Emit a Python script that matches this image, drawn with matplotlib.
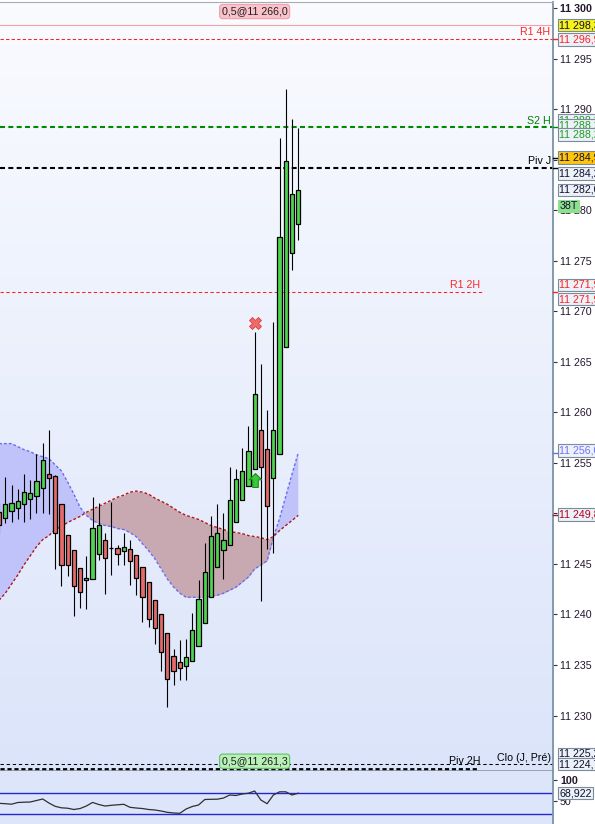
import numpy as np
import matplotlib
matplotlib.use("Agg")
import matplotlib.pyplot as plt

plt.rcParams['font.family'] = ['Liberation Sans', 'DejaVu Sans']
plt.rcParams['lines.scale_dashes'] = False

# candles, oldest -> newest
opens = [11250.1, 11249.5, 11250.2, 11250.5, 11250.9, 11251.4, 11251.7, 11252.5, 11253.9, 11253.7,
         11250.9, 11247.9, 11246.4, 11244.6, 11243.4, 11243.5, 11246.0, 11247.4, 11246.6, 11246.6,
         11246.3, 11246.5, 11245.9, 11244.7, 11243.2, 11241.4, 11240.0, 11238.2, 11235.9, 11235.3,
         11234.9, 11235.4, 11236.9, 11239.2, 11241.7, 11244.7, 11246.4, 11246.9, 11249.1, 11251.3,
         11252.7, 11254.4, 11258.2, 11256.4, 11253.5, 11255.9, 11266.5, 11275.8, 11278.6]
highs = [11251.0, 11253.6, 11252.8, 11252.4, 11253.9, 11253.3, 11255.9, 11257.0, 11258.2, 11253.8,
         11250.9, 11247.9, 11246.4, 11244.6, 11245.8, 11251.6, 11251.0, 11248.1, 11251.1, 11246.9,
         11248.1, 11247.4, 11245.9, 11244.7, 11243.2, 11241.4, 11240.0, 11238.2, 11236.6, 11237.5,
         11237.6, 11240.1, 11243.4, 11247.1, 11249.7, 11250.9, 11250.0, 11254.6, 11254.4, 11256.5,
         11258.6, 11267.9, 11264.8, 11260.2, 11268.9, 11287.1, 11292.0, 11289.0, 11288.1]
lows = [11248.0, 11249.0, 11249.1, 11249.4, 11249.1, 11249.4, 11250.0, 11250.0, 11249.9, 11244.5,
        11242.8, 11243.8, 11239.8, 11240.6, 11240.5, 11243.5, 11245.4, 11242.0, 11243.9, 11244.9,
        11244.9, 11242.9, 11241.9, 11239.3, 11238.8, 11237.1, 11234.4, 11230.8, 11233.0, 11233.5,
        11233.5, 11235.4, 11236.9, 11239.2, 11241.7, 11244.7, 11243.5, 11246.9, 11249.1, 11251.3,
        11252.7, 11254.4, 11241.3, 11246.5, 11246.1, 11255.9, 11266.5, 11274.1, 11277.0]
closes = [11248.8, 11250.9, 11251.0, 11251.2, 11252.1, 11252.0, 11253.2, 11255.3, 11253.5, 11248.1,
          11244.9, 11244.9, 11242.8, 11242.2, 11243.6, 11248.6, 11248.8, 11245.6, 11246.6, 11246.0,
          11246.7, 11245.3, 11243.6, 11241.7, 11239.5, 11238.7, 11236.3, 11233.6, 11234.4, 11234.7,
          11235.8, 11238.5, 11241.5, 11244.2, 11247.8, 11248.1, 11247.4, 11251.3, 11253.4, 11254.2,
          11256.2, 11261.8, 11254.6, 11250.7, 11258.2, 11277.3, 11284.9, 11281.6, 11282.0]

# cloud lines
span_a = [11256.9, 11256.9, 11256.9, 11256.6, 11256.3, 11256.1, 11255.8, 11255.6, 11255.4, 11254.8,
          11254.2, 11253.1, 11251.9, 11250.6, 11249.8, 11249.3, 11249.0, 11248.8, 11248.7, 11248.5,
          11248.4, 11248.1, 11247.7, 11247.0, 11246.3, 11245.5, 11244.5, 11243.5, 11242.7, 11242.1,
          11241.7, 11241.7, 11241.7, 11241.7, 11241.8, 11241.9, 11242.1, 11242.4, 11242.7, 11243.2,
          11243.7, 11244.5, 11244.9, 11245.3, 11247.6, 11249.5, 11251.7, 11253.9, 11256.0]
span_b = [11241.4, 11242.1, 11243.0, 11243.9, 11244.9, 11245.8, 11246.7, 11247.4, 11247.8, 11248.4,
          11248.7, 11249.1, 11249.4, 11249.7, 11250.1, 11250.4, 11250.7, 11251.0, 11251.3, 11251.6,
          11251.8, 11252.1, 11252.2, 11252.1, 11251.9, 11251.5, 11251.2, 11250.9, 11250.5, 11250.1,
          11249.8, 11249.6, 11249.4, 11249.1, 11248.8, 11248.6, 11248.4, 11248.2, 11248.1, 11248.0,
          11247.8, 11247.7, 11247.6, 11247.4, 11247.7, 11248.3, 11248.8, 11249.3, 11249.8]

# oscillator (lower panel)
rsi = [44.9, 44.0, 42.8, 46.8, 47.5, 48.0, 51.5, 55.1, 45.6, 37.8,
       34.3, 33.3, 30.3, 32.6, 38.5, 47.0, 42.1, 38.5, 40.2, 41.4,
       42.6, 35.5, 33.8, 32.6, 30.3, 29.1, 26.7, 23.6, 22.0, 21.3,
       31.4, 37.4, 40.9, 53.9, 54.4, 54.6, 57.4, 64.5, 63.4, 66.9,
       68.8, 74.0, 52.7, 44.0, 64.5, 72.1, 72.1, 64.5, 68.9]
rsi_levels = [70, 20]
rsi_last = "68,922"

# horizontal levels
level_names = ["R1 4H", "S2 H", "Piv J", "R1 2H", "Clo (J, Pré)", "Piv 2H"]
level_values = [11296.9, 11288.2, 11284.2, 11271.9, 11225.2, 11224.7]
high_line = 11298.3

# signals
signal_idx = 41
sell_price = 11268.8
buy_price = 11253.3
sell_label = "0,5@11 266,0"
buy_label = "0,5@11 261,3"

# price tags on the right scale
tag_prices = [11298.3, 11296.9, 11288.9, 11288.4, 11287.5, 11285.2, 11283.6, 11282.0,
              11256.2, 11249.9, 11226.2, 11225.2]
tag_texts = ["11 298,3", "11 296,9", "11 288,2", "11 288,2", "11 288,2", "11 284,9", "11 284,2",
             "11 282,0", "11 256,0", "11 249,8", "11 225,2", "11 224,7"]
r12_tags = [11272.6, 11271.2]
timer_price = 11280.4
timer_text = "38T"
hidden_ticks = [11285, 11250, 11225]

n = len(opens)
x = np.arange(n)
o = np.array(opens); c = np.array(closes)
up = c >= o

fig = plt.figure(figsize=(5.95, 8.24), dpi=100)
ax = fig.add_axes([0, 53 / 824, 552.5 / 595, 769 / 824])
ax2 = fig.add_axes([0, 0, 552.5 / 595, 53 / 824])

xlim = (0.15, 88.78)
ylim = (11224.51, 11300.59)

# background gradient
top = np.array([0.98, 0.985, 1.0]); bot = np.array([0.86, 0.895, 0.98])
t = np.linspace(0, 1, 256)[:, None, None]
grad = top * (1 - t) + bot * t
ax.imshow(grad, extent=[xlim[0], xlim[1], ylim[0], ylim[1]], aspect='auto', zorder=0)

# cloud
sa = np.array(span_a); sb = np.array(span_b)
ax.fill_between(x, sa, sb, where=sa >= sb, interpolate=True, color='#bfc3fa', lw=0, zorder=1)
ax.fill_between(x, sa, sb, where=sa < sb, interpolate=True, color='#c9a9b1', lw=0, zorder=1)
ax.plot(x, sa, color='#6b6bf2', lw=1, dashes=(2, 1.5), zorder=1.5)
ax.plot(x, sb, color='#b01818', lw=1, dashes=(2, 1.5), zorder=1.5)

# levels
ax.axhline(high_line, color='#f4a0a8', lw=0.8, zorder=1.6)
lv = dict(zip(level_names, level_values))
ax.axhline(lv["R1 4H"], color='#ff2020', lw=0.75, dashes=(2.4, 1.6), zorder=1.6)
ax.axhline(lv["S2 H"], color='#008a00', lw=1.5, dashes=(3.6, 2.4), zorder=1.6)
ax.axhline(lv["Piv J"], color='black', lw=1.5, dashes=(3.6, 2.4), zorder=1.6)
ax.axhline(lv["R1 2H"], xmax=0.872, color='#ff2020', lw=0.75, dashes=(2.4, 1.8), zorder=1.6)
ax.axhline(lv["Clo (J, Pré)"], color='black', lw=0.75, dashes=(2.4, 2.0), zorder=1.6)
ax.axhline(lv["Piv 2H"], xmax=0.863, color='black', lw=2.0, dashes=(3.0, 2.0), zorder=1.6)

ya = ax.get_yaxis_transform()
fs = 7.7
ax.text(0.9955, 11297.6, "R1 4H", transform=ya, ha='right', va='center', fontsize=fs, color='#ff2828')
ax.text(0.997, 11288.8, "S2 H", transform=ya, ha='right', va='center', fontsize=fs, color='#008000')
ax.text(0.997, 11284.9, "Piv J", transform=ya, ha='right', va='center', fontsize=fs, color='black')
ax.text(0.869, 11272.6, "R1 2H", transform=ya, ha='right', va='center', fontsize=fs, color='#ff2828')
ax.text(0.869, 11225.45, "Piv 2H", transform=ya, ha='right', va='center', fontsize=fs, color='black')
ax.text(0.997, 11225.8, "Clo (J, Pré)", transform=ya, ha='right', va='center', fontsize=fs, color='black')

# candles
ax.vlines(x, lows, highs, color='black', lw=0.8, zorder=3)
ax.bar(x, np.abs(c - o), bottom=np.minimum(o, c), width=0.68,
       color=np.where(up, '#4fd44f', '#e66a6a'), edgecolor='black', lw=0.9, zorder=4)

# signals
arrow = [(0, 1), (0.9, 0.1), (0.4, 0.1), (0.4, -1), (-0.4, -1), (-0.4, 0.1), (-0.9, 0.1), (0, 1)]
ax.plot(signal_idx, buy_price, marker=arrow, ms=10, mfc='#3cc83c', mec='#169016', mew=0.8, zorder=5)
ax.plot(signal_idx, sell_price, marker='X', ms=9, mfc='#f06a6a', mec='#d84040', mew=0.6, zorder=5)
xa = ax.get_xaxis_transform()
ax.text(signal_idx, 0.9876, sell_label, transform=xa, ha='center', va='center', fontsize=fs,
        color='#202020', bbox=dict(boxstyle='round,pad=0.2,rounding_size=0.3', fc='#f9c2ca', ec='#f0a0a8', lw=0.8),
        zorder=6)
ax.text(signal_idx, 0.0127, buy_label, transform=xa, ha='center', va='center', fontsize=fs,
        color='#202020', bbox=dict(boxstyle='round,pad=0.2,rounding_size=0.3', fc='#b8f0b8', ec='#60c060', lw=0.8),
        zorder=6)

ax.set_xlim(*xlim)
ax.set_ylim(*ylim)
ax.set_xticks([])

# right scale
ax.yaxis.tick_right()
ticks = np.arange(11230, 11301, 5)
ax.set_yticks(ticks)
ax.set_yticklabels(["" if v in hidden_ticks else f"{v:,}".replace(",", " ") for v in ticks])
ax.tick_params(axis='y', length=3.2, width=0.8, color='#303040', pad=2.2, labelsize=fs, labelcolor='#22182e')
for lbl in ax.get_yticklabels():
    if lbl.get_text() == "11 300":
        lbl.set_fontweight('bold')
ax.spines['left'].set_visible(False)
ax.spines['right'].set_color('#7b93a6'); ax.spines['right'].set_linewidth(1.3)
ax.spines['top'].set_color('#a4adb6'); ax.spines['top'].set_linewidth(0.8)
ax.spines['bottom'].set_color('#8a98a6'); ax.spines['bottom'].set_linewidth(1.2)

# colored marks on the scale
marks = [(lv["R1 4H"], '#ff2020'), (lv["S2 H"], '#008a00'), (11285.2, 'black'), (lv["Piv J"], 'black'),
         (lv["R1 2H"], '#ff2020'), (span_a[-1], '#6b6bf2'), (span_b[-1], '#b01818')]
for v, col in marks:
    ax.plot([1.0, 1.008], [v, v], transform=ya, color=col, lw=1, clip_on=False, zorder=5)

tag_fc = ['#f6f21a', '#edf1f8', '#edf1f8', '#edf1f8', '#edf1f8', '#ffc40c', '#edf1f8', '#edf1f8',
          '#edf1f8', '#edf1f8', '#edf1f8', '#edf1f8']
tag_tc = ['#101030', '#ff2020', '#1e9e1e', '#1e9e1e', '#1e9e1e', '#101030', '#101030', '#101030',
          '#7070ff', '#b00020', '#101030', '#101030']
tx = 1.0125
for p, s, fcol, tcol in zip(tag_prices, tag_texts, tag_fc, tag_tc):
    ax.text(tx, p, s, transform=ya, ha='left', va='center', fontsize=fs, color=tcol, clip_on=False,
            bbox=dict(boxstyle='square,pad=0.12', fc=fcol, ec='#7a8c9c', lw=0.8), zorder=6)
for p in r12_tags:
    ax.text(tx, p, "11 271,9", transform=ya, ha='left', va='center', fontsize=fs, color='#ff2020',
            clip_on=False, bbox=dict(boxstyle='square,pad=0.12', fc='#edf1f8', ec='#7a8c9c', lw=0.8), zorder=6)
ax.text(tx, timer_price, timer_text, transform=ya, ha='left', va='center', fontsize=fs, color='#101030',
        clip_on=False, bbox=dict(boxstyle='square,pad=0.12', fc='#8ee08e', ec='#8ee08e', lw=0.8), zorder=7)

# lower panel
ax2.set_facecolor('#dde5fb')
for lev in rsi_levels:
    ax2.axhline(lev, color='#2424d0', lw=1)
ax2.plot(x, rsi, color='#303030', lw=0.9)
ax2.set_xlim(*xlim)
ax2.set_ylim(-4, 121.3)
ax2.set_xticks([])
ax2.yaxis.tick_right()
ax2.set_yticks([100, 50])
ax2.set_yticklabels(["100", "50"])
ax2.tick_params(axis='y', length=3.2, width=0.8, color='#303040', pad=2.2, labelsize=fs, labelcolor='#22182e')
ax2.get_yticklabels()[0].set_fontweight('bold')
ax2.spines['left'].set_visible(False)
ax2.spines['top'].set_visible(False)
ax2.spines['bottom'].set_visible(False)
ax2.spines['right'].set_color('#7b93a6'); ax2.spines['right'].set_linewidth(1.3)
ax2.text(tx, rsi[-1], rsi_last, transform=ax2.get_yaxis_transform(), ha='left', va='center',
         fontsize=fs, color='#101030', clip_on=False,
         bbox=dict(boxstyle='square,pad=0.12', fc='#edf1f8', ec='#7a8c9c', lw=0.8), zorder=6)

fig.savefig("out.png", dpi=100)
